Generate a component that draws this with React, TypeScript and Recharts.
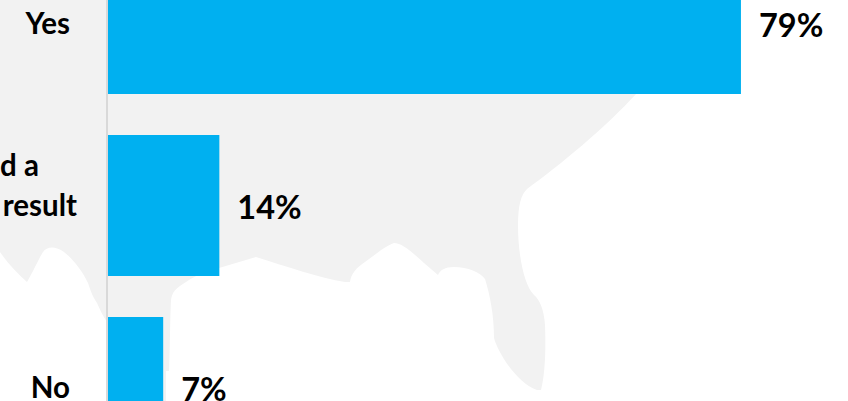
import React from "react";
import { BarChart, Bar, XAxis, YAxis, LabelList } from "recharts";

const categories = ["Yes", "d a\nresult", "No"];
const shares = [79, 14, 7];
const rows = categories.map((category, i) => ({ category, share: shares[i] }));

const SILHOUETTE =
  "M0 0 L0 252 C8 264 18 274 27 282 C33 272 38 260 43 252 C47 246 56 246 64 252 C74 260 83 272 88 283 C91 292 93 297 97 303 C100 310 103 316 107 322 " +
  "L108 401 L166 401 L166 371 L169 371 C170 350 170 320 171 300 C172 292 176 288 186 282 C195 276 205 271 219 268 L256 257 " +
  "C285 266 320 278 345 282 L350 282 C351 274 356 268 365 262 C375 255 385 246 394 243 C402 243 412 252 424 263 L438 275 " +
  "C440 270 445 267 454 267 C468 267 480 272 485 279 C490 295 494 315 494 338 C497 350 515 382 537 390 L541 390 " +
  "C545 375 546 350 545 325 C544 310 540 300 534 295 C524 285 518 255 518 225 C518 205 521 195 527 189 " +
  "C560 165 605 128 637 93 L720 0 Z";

function CategoryTick({ x, y, payload }: any) {
  const lines = String(payload.value).split("\n");
  const ends = lines.length > 1 ? [39, 77] : [70];
  return (
    <text fontFamily="Lato" fontWeight={700} fontSize={29.5} fill="#000">
      {lines.map((line, i) => (
        <tspan key={i} x={ends[i]} y={y + 11 - (lines.length - 1 - i) * 40} textAnchor="end">
          {line}
        </tspan>
      ))}
    </text>
  );
}

export default function App() {
  return (
    <div style={{ position: "fixed", left: 0, top: 0, width: 848, height: 401, overflow: "hidden", background: "#fff" }}>
      <svg width={848} height={401} style={{ position: "absolute", left: 0, top: 0 }}>
        <path d={SILHOUETTE} fill="#f2f2f2" />
      </svg>
      <div style={{ position: "absolute", left: 0, top: -68 }}>
        <BarChart
          width={848}
          height={546}
          data={rows}
          layout="vertical"
          margin={{ top: 0, right: 0, bottom: 0, left: 0 }}
          barSize={141}
        >
          <XAxis type="number" domain={[0, 92.34]} hide />
          <YAxis
            type="category"
            dataKey="category"
            width={107}
            tickLine={false}
            axisLine={{ stroke: "#d9d9d9", strokeWidth: 2 }}
            tick={<CategoryTick />}
            interval={0}
          />
          <Bar dataKey="share" fill="#00b0f0" isAnimationActive={false}>
            <LabelList
              dataKey="share"
              position="right"
              offset={18}
              dy={2}
              formatter={(v: any) => `${v}%`}
              style={{ fontFamily: "Lato", fontWeight: 700, fontSize: 32.5, fill: "#000" }}
            />
          </Bar>
        </BarChart>
      </div>
    </div>
  );
}
